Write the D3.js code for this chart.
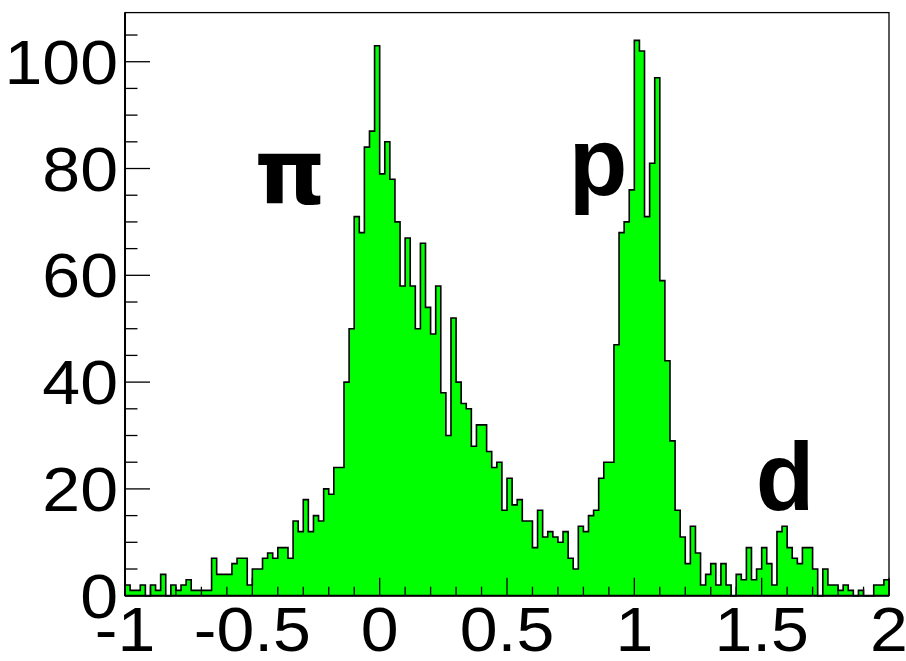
<!DOCTYPE html>
<html>
<head>
<meta charset="utf-8">
<script src="https://cdn.jsdelivr.net/npm/d3@7"></script>
<style>
  html, body { margin: 0; padding: 0; background: #fff; }
  svg { display: block; }
</style>
</head>
<body>
<svg id="chart" width="906" height="661"></svg>
<script>
// ---- data ----
const xMin = -1, xMax = 2, nBins = 150;
const counts = [
  2, 1, 1, 2, 0, 2, 1, 4, 0, 2,
  1, 2, 3, 1, 1, 1, 1, 7, 4, 4,
  4, 6, 7, 7, 2, 5, 5, 7, 8, 7,
  9, 9, 7, 14, 12, 18, 12, 15, 14, 20,
  19, 24, 24, 40, 50, 71, 68, 84, 87, 103,
  79, 85, 78, 70, 58, 67, 58, 50, 66, 54,
  49, 58, 38, 30, 52, 40, 36, 35, 28, 32,
  32, 27, 24, 25, 16, 22, 17, 18, 14, 14,
  9, 16, 11, 12, 11, 10, 12, 7, 5, 13,
  12, 15, 16, 22, 25, 25, 47, 68, 70, 76,
  104, 102, 71, 81, 97, 59, 44, 29, 16, 11,
  6, 13, 8, 2, 4, 6, 2, 6, 2, 0,
  4, 3, 9, 3, 5, 9, 6, 2, 12, 13,
  9, 7, 6, 9, 9, 5, 0, 5, 2, 2,
  1, 2, 1, 0, 1, 0, 0, 2, 2, 3
];
const xTickLabels = [-1, -0.5, 0, 0.5, 1, 1.5, 2];
const yTickLabels = [0, 20, 40, 60, 80, 100];
const peakLabels = ["\u03c0", "p", "d"];

// ---- layout ----
const W = 906, H = 661;
const margin = { left: 125, right: 17, top: 12.6, bottom: 65.3 };
const svg = d3.select("#chart");

const yMax = d3.max(counts) * 1.05;
const x = d3.scaleLinear().domain([xMin, xMax]).range([margin.left, W - margin.right]);
const y = d3.scaleLinear().domain([0, yMax]).range([H - margin.bottom, margin.top]);
const binW = (xMax - xMin) / nBins;

// histogram path (ROOT style outline)
const pts = [[x(xMin), y(0)]];
counts.forEach((c, i) => {
  const x0 = xMin + i * binW, x1 = x0 + binW;
  pts.push([x(x0), y(c)]);
  pts.push([x(x1), y(c)]);
});
pts.push([x(xMax), y(0)]);
const line = d3.line();
svg.append("path")
  .attr("d", line(pts) + "Z")
  .attr("fill", "#00ff00")
  .attr("stroke", "none");
svg.append("path")
  .attr("d", line(pts))
  .attr("fill", "none")
  .attr("stroke", "#000")
  .attr("stroke-width", 1.6)
  .attr("stroke-linejoin", "miter");

// frame
svg.append("rect")
  .attr("x", x(xMin)).attr("y", y(yMax))
  .attr("width", x(xMax) - x(xMin)).attr("height", y(0) - y(yMax))
  .attr("fill", "none").attr("stroke", "#000").attr("stroke-width", 1.3);

const labelFont = "Liberation Sans, Arial, Helvetica, sans-serif";
const fs = 63, sx = 1.08;

// x axis (ticks inward)
const gx = svg.append("g");
const minorX = d3.range(-10, 21).map(v => v / 10);
gx.selectAll("line").data(minorX).enter().append("line")
  .attr("x1", d => x(d)).attr("x2", d => x(d))
  .attr("y1", y(0)).attr("y2", d => y(0) - (Math.abs(d * 2 - Math.round(d * 2)) < 1e-6 ? 18 : 9))
  .attr("stroke", "#000").attr("stroke-width", 1.3);
gx.append("line").attr("x1", x(xMin)).attr("x2", x(xMax)).attr("y1", y(0)).attr("y2", y(0))
  .attr("stroke", "#000").attr("stroke-width", 2);
gx.selectAll("text").data(xTickLabels).enter().append("text")
  .attr("transform", d => `translate(${x(d)},${y(0) + 55}) scale(${sx},1)`)
  .attr("text-anchor", "middle")
  .attr("font-family", labelFont)
  .attr("font-size", fs)
  .text(d => d);

// y axis
const gy = svg.append("g");
const minorY = d3.range(0, 106, 5);
gy.selectAll("line").data(minorY).enter().append("line")
  .attr("x1", x(xMin)).attr("x2", d => x(xMin) + (d % 20 === 0 ? 25 : 12.5))
  .attr("y1", d => y(d)).attr("y2", d => y(d))
  .attr("stroke", "#000").attr("stroke-width", 1.3);
gy.append("line").attr("x1", x(xMin)).attr("x2", x(xMin)).attr("y1", y(0)).attr("y2", y(yMax))
  .attr("stroke", "#000").attr("stroke-width", 2);
gy.selectAll("text").data(yTickLabels).enter().append("text")
  .attr("transform", d => `translate(${x(xMin) - 7},${y(d) + 22}) scale(${sx},1)`)
  .attr("text-anchor", "end")
  .attr("font-family", labelFont)
  .attr("font-size", fs)
  .text(d => d);

// peak labels
const labelPos = [[-0.352, 73.4], [0.858, 75], [1.592, 16]];
const labelFam = ["DejaVu Sans, sans-serif", labelFont, labelFont];
const labelSize = [90, 96, 96];
svg.selectAll("text.peak").data(peakLabels).enter().append("text")
  .attr("class", "peak")
  .attr("x", (d, i) => x(labelPos[i][0]))
  .attr("y", (d, i) => y(labelPos[i][1]))
  .attr("text-anchor", "middle")
  .attr("font-family", (d, i) => labelFam[i])
  .attr("font-weight", "bold")
  .attr("font-size", (d, i) => labelSize[i])
  .text(d => d);
</script>
</body>
</html>
